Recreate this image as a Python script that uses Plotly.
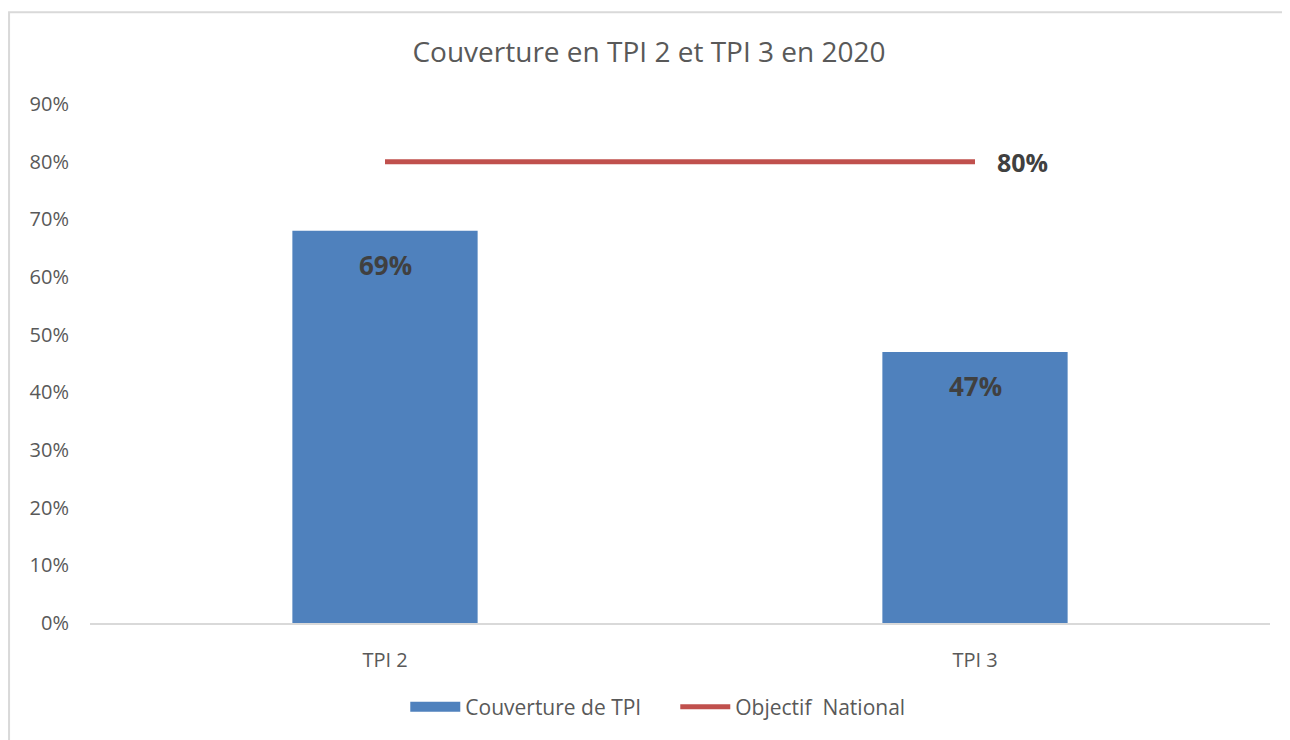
import plotly.graph_objects as go

# data
categories = ["TPI 2", "TPI 3"]
coverage = [0.68, 0.47]
coverage_labels = ["69%", "47%"]
objective = [0.80, 0.80]
objective_label = "80%"

FONT = "Open Sans"
TEXT_GREY = "#595959"
LABEL_DARK = "#404040"
BLUE = "#4F81BD"
RED = "#C0504D"

bars = go.Bar(
    x=categories,
    y=coverage,
    width=0.314,
    marker=dict(color=BLUE, line=dict(width=0)),
    name="Couverture de TPI",
    showlegend=False,
)

# legend entry only: Excel draws the bar key as a wide flat rectangle
bar_key = go.Scatter(
    x=[None], y=[None],
    mode="lines",
    line=dict(color=BLUE, width=14),
    name="Couverture de TPI",
)

target = go.Scatter(
    x=categories,
    y=objective,
    mode="lines",
    line=dict(color=RED, width=5),
    name="Objectif  National",
)

fig = go.Figure(data=[bars, bar_key, target])

# bold value labels inside the bars, near the top
for cat, val, lab in zip(categories, coverage, coverage_labels):
    fig.add_annotation(
        x=cat, y=val, text="<b>%s</b>" % lab, showarrow=False,
        yanchor="middle", yshift=-34,
        font=dict(family=FONT, size=26, color=LABEL_DARK),
    )

# label at the right end of the target line
fig.add_annotation(
    x=categories[-1], y=objective[-1], text="<b>%s</b>" % objective_label,
    showarrow=False, xanchor="left", xshift=20,
    font=dict(family=FONT, size=25, color=LABEL_DARK),
)

# light border around the chart area
fig.add_shape(
    type="rect", xref="paper", yref="paper",
    x0=-0.0686, x1=1.03, y0=-0.25, y1=1.177,
    line=dict(color="#D9D9D9", width=2), fillcolor="rgba(0,0,0,0)",
    layer="below",
)

fig.update_layout(
    width=1282,
    height=732,
    margin=dict(l=82, r=20, t=96, b=117),
    paper_bgcolor="white",
    plot_bgcolor="white",
    font=dict(family=FONT, color=TEXT_GREY),
    title=dict(
        text="Couverture en TPI 2 et TPI 3 en 2020",
        x=0.5, xanchor="center", y=0.94, yanchor="middle",
        font=dict(family=FONT, size=28, color=TEXT_GREY),
    ),
    xaxis=dict(
        type="category",
        showgrid=False,
        showline=True,
        linecolor="#D9D9D9",
        linewidth=1.5,
        ticks="",
        ticklabelstandoff=18,
        tickfont=dict(family=FONT, size=20, color=TEXT_GREY),
        zeroline=False,
    ),
    yaxis=dict(
        range=[0, 0.9],
        dtick=0.1,
        tickformat=".0%",
        showgrid=False,
        zeroline=False,
        showline=False,
        ticks="",
        ticklabelstandoff=20,
        tickfont=dict(family=FONT, size=20, color=TEXT_GREY),
    ),
    legend=dict(
        orientation="h",
        x=0.496, xanchor="center",
        y=-0.162, yanchor="middle",
        font=dict(family=FONT, size=21, color=TEXT_GREY),
        itemwidth=50,
        entrywidth=205,
        entrywidthmode="pixels",
        tracegroupgap=0,
    ),
    bargap=0.686,
    showlegend=True,
)

fig.write_html("out.html")
